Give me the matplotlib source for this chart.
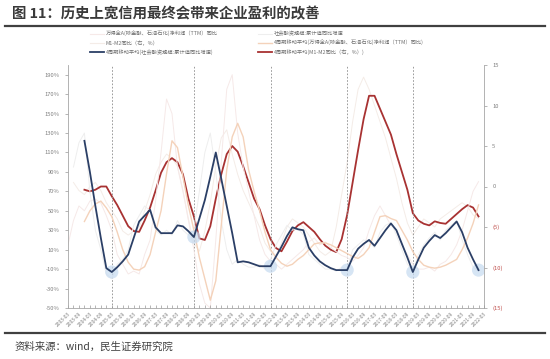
import matplotlib
matplotlib.use("Agg")
import matplotlib.pyplot as plt
import numpy as np

plt.rcParams['font.family'] = ['Noto Sans CJK SC', 'DejaVu Sans']

# quarterly categories 2003-03 .. 2022-03
dates = [f"{y}-{m:02d}" for y in range(2003, 2023) for m in (3, 6, 9, 12)][:77]

nan = np.nan
# 4-period MA of social financing cumulative YoY (left axis, %)
sf_ma = [nan, nan, nan, 122, 90, 55, 22, -9, -13, -8, -2, 5, 22, 39, 45, 51, 33, 27, 27, 27,
         35, 34, 29, 23, 42, 61, 85, 110, 83, 55, 27, -3, -2, -3, -5, -7, -7, -7, 3, 13,
         24, 33, 31, 30, 12, 4, -2, -6, -9, -11, -11, -11, 2, 11, 16, 20, 14, 22, 30, 37,
         30, 16, 2, -13, 0, 12, 19, 25, 22, 27, 33, 39, 28, 12, 0, -11]
# 4-period MA of M1-M2 YoY (right axis, %)
m_ma = [nan, nan, nan, -0.4, -0.6, -0.4, 0, 0, -1.2, -2.3, -3.6, -4.9, -5.5, -5.6, -4.2, -2.6,
        -0.5, 1.7, 3.0, 3.5, 3.0, 1.5, -1.5, -3.7, -6.4, -6.6, -4.9, -1.5, 1.5, 4.0, 5.0, 4.3,
        2.5, 0.5, -1.5, -2.8, -4.8, -6.5, -7.6, -8.0, -6.8, -5.5, -4.8, -4.4, -5.0, -5.6, -6.5,
        -7.3, -7.8, -8.1, -6.5, -3.5, 0.5, 4.5, 8.3, 11.2, 11.2, 9.6, 8.0, 6.4, 4.0, 1.8, -0.4,
        -3.3, -4.2, -4.6, -4.8, -4.3, -4.5, -4.6, -4.0, -3.4, -2.8, -2.3, -2.6, -3.7]
# 4-period MA of Wind All A (ex fin & oil) net profit TTM YoY (left axis, %)
p_ma = [nan, nan, nan, 39, 50, 57, 60, 53, 44, 28, 10, -3, -10, -11, -7.5, 5, 28, 50, 88, 122,
        115, 85, 55, 30, 2, -20, -42, -22, 35, 92, 126, 140, 126, 92, 70, 50, 28, 10, 2, -4,
        -7, -5, 0, 4, 10, 16, 17, 17, 15, 12, 9, 6, 3, 1, 5, 12, 28, 44, 45, 42, 40, 30, 20, 8,
        0, -6, -8, -9, -8, -6, -3, 0, 10, 22, 37, 56]
# raw series (faint)
p_raw = [15, 40, 55, 50, 60, 62, 58, 45, 30, 5, -5, -15, -12, -15, 5, 20, 60, 110, 165, 150,
         95, 70, 40, 10, -25, -45, -50, 20, 100, 175, 190, 130, 95, 70, 45, 20, 5, -2, -5, -10,
         -5, 0, 5, 10, 18, 22, 15, 18, 12, 8, 4, 2, -2, 4, 12, 30, 45, 55, 45, 35, 30, 15, 5, -5,
         -10, -10, -8, -12, -5, -2, 5, 15, 30, 50, 70, 80]
sf_raw = [nan, 95, 120, 130, 70, 30, 10, -15, -20, -5, 0, 10, 35, 45, 55, 50, 30, 25, 30, 25,
          40, 30, 25, 30, 70, 110, 130, 90, 40, 10, -5, 0, -5, -8, -8, -5, -10, 0, 15, 25,
          35, 30, 32, 25, 5, 0, -5, -10, -10, -12, -8, -10, 10, 15, 20, 18, 12, 28, 35, 38,
          25, 10, -5, -12, 5, 15, 22, 28, 20, 30, 35, 40, 20, 5, -8, -12]
m_raw = [nan, 0.5, -0.5, -1.0, 0, 0.5, -0.5, -2.0, -3.0, -4.0, -5.5, -6.0, -5.5, -5.0, -3.0, -1.0,
         1.5, 3.0, 4.0, 3.5, 2.5, -0.5, -4.0, -7.0, -8.0, -5.5, -2.0, 2.5, 6.0, 7.0, 4.0, 1.5,
         -0.5, -2.0, -3.5, -5.0, -7.0, -8.0, -8.5, -7.0, -5.0, -4.0, -4.5, -5.0, -6.0, -7.0, -8.0,
         -8.5, -8.0, -5.0, -1.0, 3.0, 8.0, 12.0, 13.5, 12.0, 10.0, 8.0, 6.0, 3.5, 1.0, -2.0, -4.5,
         -6.0, -5.0, -4.0, -4.5, -5.0, -4.0, -3.5, -3.0, -2.5, -2.0, -2.5, -3.5, -4.0]

left_ticks = list(range(-50, 200, 20))
right_ticks = [-15, -10, -5, 0, 5, 10, 15]
marks = [8, 23, 37, 51, 63]
circles = [8, 23, 37, 51, 63, 75]

labels_ = ["万得全A(除金融、石油石化)净利润（TTM）同比",
           "社会融资规模:累计值同比增速",
           "M1-M2同比（右，%）",
           "4周期移动平均(万得全A(除金融、石油石化)净利润（TTM）同比)",
           "4周期移动平均(社会融资规模:累计值同比增速)",
           "4周期移动平均(M1-M2同比（右，%）)"]

W, H = 550, 359
fig = plt.figure(figsize=(W / 100, H / 100), dpi=100)
ax = fig.add_axes([68 / W, 1 - 308 / H, (484 - 68) / W, (308 - 65) / H])
ax2 = ax.twinx()

x = np.arange(len(sf_ma))
c_navy = '#2B3F66'
c_red = '#A83232'
c_peach = '#F4D2BA'
c_praw = '#F6E9E8'
c_sfraw = '#EEEEEE'
c_mraw = '#F4ECE7'

ax.plot(np.arange(len(p_raw)), p_raw, color=c_praw, lw=0.7, zorder=1)
ax.plot(np.arange(len(sf_raw)), sf_raw, color=c_sfraw, lw=0.7, zorder=1)
ax2.plot(np.arange(len(m_raw)), m_raw, color=c_mraw, lw=0.7, zorder=1)
ax.plot(x, p_ma, color=c_peach, lw=1.0, zorder=2)
ax.plot(x, sf_ma, color=c_navy, lw=1.3, zorder=4)
ax2.plot(x, m_ma, color=c_red, lw=1.3, zorder=4)

ax.scatter(circles, [sf_ma[i] for i in circles], s=90, color='#C5DAF0', alpha=0.7,
           edgecolors='none', zorder=3)
for m in marks:
    ax.axvline(m, color='#8C8C8C', lw=0.6, ls=(0, (2, 2)), zorder=0)

ax.set_xlim(0, 76)
ax.set_ylim(-50, 200)
ax2.set_ylim(-15, 15)
ax.set_yticks(left_ticks)
ax.set_yticklabels([f"{t}%" for t in left_ticks])
ax2.set_yticks(right_ticks)
ax2.set_yticklabels([f"({-t})" if t < 0 else f"{t}" for t in right_ticks])
for lab, t in zip(ax2.get_yticklabels(), right_ticks):
    lab.set_color('#C0504D' if t < 0 else '#808080')

ax.set_xticks(np.arange(0, 77))
ax.set_xticklabels([d if i % 2 == 0 else '' for i, d in enumerate(dates)],
                   rotation=45, ha='right', rotation_mode='anchor', fontsize=3.6, color='#808080')
ax.tick_params(axis='x', direction='in', length=2, width=0.5, color='#999999', pad=2)
ax.tick_params(axis='y', direction='out', length=2, width=0.5, color='#999999',
               labelsize=4.2, labelcolor='#808080', pad=4)
ax2.tick_params(axis='y', direction='out', length=2, width=0.5, color='#999999',
                labelsize=4.2, pad=4)

for a in (ax, ax2):
    a.spines['top'].set_visible(False)
    for s in ('left', 'right', 'bottom'):
        a.spines[s].set_color('#A6A6A6')
        a.spines[s].set_linewidth(0.6)
ax.spines['right'].set_visible(False)
ax2.spines['left'].set_visible(False)
ax2.spines['bottom'].set_visible(False)
ax.set_zorder(ax2.get_zorder() + 1)
ax.patch.set_visible(False)

# title and rules
fig.text(12 / W, 1 - 14 / H, "图 11：历史上宽信用最终会带来企业盈利的改善", fontsize=10.4,
         fontweight='bold', color='#3A3A3A', va='center', ha='left')
fig.add_artist(plt.Line2D([5 / W, 545 / W], [1 - 26 / H, 1 - 26 / H], color='#404040', lw=1.6))
fig.add_artist(plt.Line2D([5 / W, 545 / W], [1 - 333 / H, 1 - 333 / H], color='#404040', lw=1.6))
fig.text(15 / W, 1 - 347 / H, "资料来源：wind，民生证券研究院", fontsize=7.5, color='#404040',
         va='center', ha='left')

# legend (manual)
leg_colors = [c_praw, c_sfraw, c_mraw, c_peach, c_navy, c_red]
leg_lw = [0.8, 0.8, 0.8, 1.0, 1.3, 1.3]
rows_y = [34, 43, 52]
for i, (lab, col, lw) in enumerate(zip(labels_, leg_colors, leg_lw)):
    r, c = i // 2, i % 2
    x0 = 90 if c == 0 else 258
    yy = 1 - rows_y[r] / H
    fig.add_artist(plt.Line2D([x0 / W, (x0 + 14) / W], [yy, yy], color=col, lw=lw))
    fig.text((x0 + 16) / W, yy, lab, fontsize=3.8, color='#707070', va='center', ha='left')

fig.savefig("out.png", dpi=100)
